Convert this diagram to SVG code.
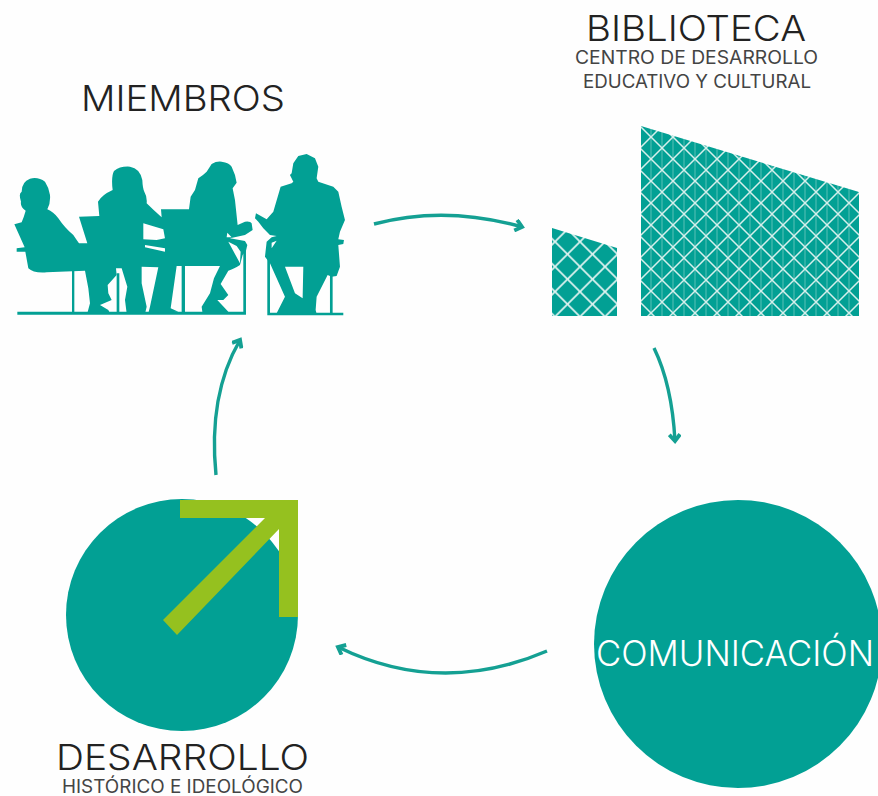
<svg xmlns="http://www.w3.org/2000/svg" width="878" height="796" viewBox="0 0 878 796">
<style>
.t{fill:#02a094}
.w{fill:#fefefe}
.big{font-family:"Inter","Liberation Sans",sans-serif;font-weight:300;font-size:36px;fill:#222}
.sub{font-family:"Inter","Liberation Sans",sans-serif;font-weight:400;font-size:18px;fill:#444}
.conn{fill:none;stroke:#14a093;stroke-width:3.4;marker-end:url(#ah)}
</style>
<defs>
<marker id="ah" markerUnits="userSpaceOnUse" markerWidth="13" markerHeight="13" refX="7.5" refY="6" orient="auto" viewBox="0 0 12 12"><path d="M1.5,1 L7.5,6 L1.5,11" fill="none" stroke="#14a093" stroke-width="3.6"/></marker>
<pattern id="mesh" patternUnits="userSpaceOnUse" x="580" y="241.7" width="25" height="25"><rect width="25" height="25" fill="#02a094"/><path d="M0,0L25,25M25,0L0,25" stroke="#dff3f0" stroke-width="1.7"/></pattern>
<pattern id="mesh2" patternUnits="userSpaceOnUse" x="651" y="137" width="22" height="22"><rect width="22" height="22" fill="#02a094"/><path d="M0,0V22M11,0V22M22,0V22" stroke="#45b9ae" stroke-width="1.3"/><path d="M0,0L22,22M22,0L0,22" stroke="#d5efeb" stroke-width="1.5"/></pattern>
</defs>
<rect width="878" height="796" fill="#fefefe"/>
<g id="connectors">
<path class="conn" d="M374,224 Q445,205 522,227"/>
<path class="conn" d="M654,348 Q672,385 675,441"/>
<path class="conn" d="M547,651 Q440,697 338,647"/>
<path class="conn" d="M216,475 Q208,395 240,340"/>
</g>
<g id="miembros">
<text class="big" x="81" y="111" textLength="204" lengthAdjust="spacingAndGlyphs">MIEMBROS</text>
<g class="t" transform="translate(10,160) scale(0.3333)">
<path d="M22,455H708V464H22ZM186,330H193V460H186ZM320,340H328V460H320ZM515,310H525V460H515ZM700,260H708V460H700Z"/>
<path d="M13,193L35,187Q42,170 47,152Q30,140 33,125Q25,100 35,95Q35,65 60,56Q85,50 105,65Q118,85 120,105Q122,130 112,148Q130,155 145,175Q165,205 190,225Q200,240 207,250L232,250L207,170L268,168L264,125Q275,105 308,90Q303,50 312,33Q330,18 360,20Q390,25 397,60Q398,85 403,95Q412,110 410,130Q430,150 455,172L453,148L537,148L542,110L555,90L565,55Q580,45 590,35L605,12Q620,3 635,5Q658,8 665,20L675,45L680,68L668,85L675,120L683,195L705,185Q722,183 725,190L728,210L705,225L660,235L705,243L712,255L708,272L698,285L690,315Q670,328 655,332L632,372L655,405L640,420L622,420L655,455L650,462L578,462L575,440L600,400L612,355L630,318L500,318L482,445L505,455L415,460L420,440L445,322L395,320L395,370L410,440L405,462L350,460L345,420L352,380L335,325L318,325L320,345L293,375L295,400L305,420L270,435L295,450L300,460L232,460L240,430L235,385L225,332L110,337Q70,340 55,325L46,275L20,275L20,265L44,262Z"/>
<path class="w" d="M400,190L460,208L465,235L440,240L400,238ZM405,255L465,265L465,275L405,262ZM655,245L680,258L692,275L690,310ZM652,218L665,232L650,232Z"/>
<g transform="translate(480,-30)">
<path d="M292,290H300V495H292ZM292,488H520V496H292ZM480,378H488V490H480Z"/>
<path d="M365,70L370,40L385,18L410,12L435,25L445,50L440,85L445,95L490,110L505,125L515,170L525,210L510,245L505,268L522,270L520,282L505,285L510,350L500,378L485,380L473,375L440,440L437,480L440,492L320,490L345,440L300,340L285,320L290,275L305,262L320,258L300,255L280,235L265,215L255,205L258,190L290,208L310,185L332,110L365,100L370,95L360,75Z"/>
<path class="w" d="M345,350L400,350L398,445L375,430ZM305,278L320,272L305,295Z"/>
</g>
</g>
</g>
<g id="biblioteca">
<text class="big" x="586" y="41" textLength="220" lengthAdjust="spacingAndGlyphs">BIBLIOTECA</text>
<text class="sub" x="575" y="64" textLength="243" lengthAdjust="spacingAndGlyphs">CENTRO DE DESARROLLO</text>
<text class="sub" x="583" y="88" textLength="228" lengthAdjust="spacingAndGlyphs">EDUCATIVO Y CULTURAL</text>
<path d="M552,228L617,248V316H552Z" fill="url(#mesh)"/>
<path d="M641,126L859,192V316H641Z" fill="url(#mesh2)"/>
</g>
<g id="desarrollo">
<circle class="t" cx="182" cy="615" r="116"/>
<path d="M180,500H298V617H279V529L177,635L163,620L265,518H180Z" fill="#95c11f"/>
<text class="big" x="56" y="770" textLength="253" lengthAdjust="spacingAndGlyphs">DESARROLLO</text>
<text class="sub" x="62" y="793" textLength="241" lengthAdjust="spacingAndGlyphs">HISTÓRICO E IDEOLÓGICO</text>
</g>
<g id="comunicacion">
<circle class="t" cx="738" cy="644" r="144"/>
<text class="big" x="596" y="666" textLength="278" lengthAdjust="spacingAndGlyphs" style="fill:#fff">COMUNICACIÓN</text>
</g>
</svg>
